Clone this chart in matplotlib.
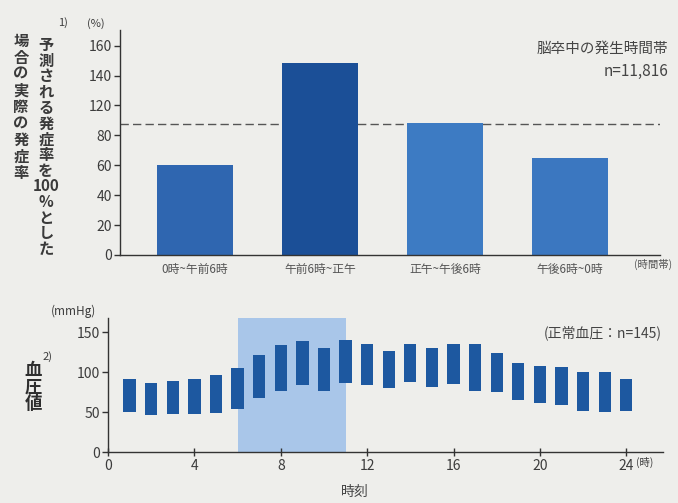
import matplotlib.pyplot as plt
import numpy as np

plt.rcParams['font.family'] = ['Noto Sans CJK JP', 'DejaVu Sans']

# stroke onset by time band (% of predicted)
bands = ["0時~午前6時", "午前6時~正午", "正午~午後6時", "午後6時~0時"]
onset_rate = [69, 147, 101, 74]
band_colors = ["#2f66b0", "#1b4f97", "#3d7bc3", "#3b77c0"]
# the printed axis skips 100 and spaces its labels evenly
top_ylabels = [0, 20, 40, 60, 80, 120, 140, 160]

# blood pressure by hour (mmHg)
hours = list(range(1, 25))
bp_low = [50, 47, 48, 48, 49, 54, 68, 77, 84, 76, 87, 84,
          80, 88, 82, 85, 77, 75, 65, 62, 59, 51, 50, 51]
bp_high = [91, 87, 89, 91, 97, 105, 122, 134, 139, 131, 141, 135,
           127, 136, 131, 136, 136, 124, 112, 108, 106, 100, 100, 92]
hour_ticks = [0, 4, 8, 12, 16, 20, 24]
bp_yticks = [0, 50, 100, 150]

W, H = 678, 503
bg = "#eeeeeb"
txt = "#3c3c3c"


def px(x, y):
    return x / W, 1 - y / H


fig = plt.figure(figsize=(W / 100, H / 100), dpi=100, facecolor=bg)

# ---- top chart ----
ax1 = fig.add_axes([120 / W, 1 - 255 / H, 540 / W, 225 / H])
ax1.patch.set_visible(False)
x = np.arange(len(bands))
ax1.bar(x, onset_rate, width=0.61, color=band_colors, zorder=2)
ax1.axhline(100, color="#555555", lw=1, ls=(0, (6, 3)), zorder=1)
ax1.set_xlim(-0.6, 3.72)
ax1.set_ylim(0, 172)
ax1.set_yticks(np.linspace(0, 160, len(top_ylabels)))
ax1.set_yticklabels([str(v) for v in top_ylabels])
ax1.set_xticks([])
for s in ["top", "right"]:
    ax1.spines[s].set_visible(False)
for s in ["left", "bottom"]:
    ax1.spines[s].set_color("#333333")
    ax1.spines[s].set_linewidth(1)
ax1.tick_params(axis="y", direction="out", length=4, width=1, color="#333333",
                labelsize=10, labelcolor=txt, pad=2)
for i, lab in enumerate(bands):
    ax1.text(i, -6, lab, ha="center", va="top", fontsize=8.5, color="#555555")
fig.text(*px(672, 264), "(時間帯)", ha="right", va="center", fontsize=7.5, color="#555555")

fig.text(*px(668, 49), "脳卒中の発生時間帯", ha="right", va="center", fontsize=10.5, color="#444444")
fig.text(*px(668, 71), "n=11,816", ha="right", va="center", fontsize=11, color="#444444")
fig.text(*px(63, 23), "1)", ha="center", va="center", fontsize=8, color=txt)
fig.text(*px(96, 24), "(%)", ha="center", va="center", fontsize=8, color=txt)

col_right = ["予", "測", "さ", "れ", "る", "発", "症", "率", "を", "100", "%", "と", "し", "た"]
col_left = ["場", "合", "の", "実", "際", "の", "発", "症", "率"]
for i, ch in enumerate(col_right):
    fig.text(*px(46, 45 + i * 15.7), ch, ha="center", va="center",
             fontsize=11, fontweight="bold", color="#3a3a3a")
for i, ch in enumerate(col_left):
    fig.text(*px(21, 41 + i * 16.5), ch, ha="center", va="center",
             fontsize=11, fontweight="bold", color="#3a3a3a")

# ---- bottom chart ----
ax2 = fig.add_axes([108 / W, 1 - 452 / H, 555 / W, 134 / H])
ax2.patch.set_visible(False)
ax2.axvspan(6, 11, color="#a9c6e9", lw=0, zorder=0)
heights = [h - l for h, l in zip(bp_high, bp_low)]
ax2.bar(hours, heights, bottom=bp_low, width=0.57, color="#1d58a0", zorder=2)
ax2.set_xlim(0, 25.7)
ax2.set_ylim(0, 168)
ax2.set_xticks(hour_ticks)
ax2.set_yticks(bp_yticks)
for s in ["top", "right"]:
    ax2.spines[s].set_visible(False)
for s in ["left", "bottom"]:
    ax2.spines[s].set_color("#333333")
    ax2.spines[s].set_linewidth(1)
ax2.tick_params(axis="y", direction="out", length=4, width=1, color="#333333",
                labelsize=10, labelcolor=txt, pad=2)
ax2.tick_params(axis="x", direction="inout", length=6, width=1, color="#333333",
                labelsize=10, labelcolor=txt, pad=2)
ax2.text(24.45, -6.5, "(時)", ha="left", va="top", fontsize=7.5, color=txt)

fig.text(*px(355, 492), "時刻", ha="center", va="center", fontsize=10, color="#444444")
fig.text(*px(73, 311), "(mmHg)", ha="center", va="center", fontsize=8.5, color=txt)
fig.text(*px(48, 357), "2)", ha="center", va="center", fontsize=8, color=txt)
for i, ch in enumerate(["血", "圧", "値"]):
    fig.text(*px(33, 370 + i * 17), ch, ha="center", va="center",
             fontsize=12.5, fontweight="bold", color="#2e2e2e")
fig.text(*px(662, 333), "(正常血圧：n=145)", ha="right", va="center", fontsize=10, color="#444444")

fig.savefig("out.png", dpi=100, facecolor=bg)
